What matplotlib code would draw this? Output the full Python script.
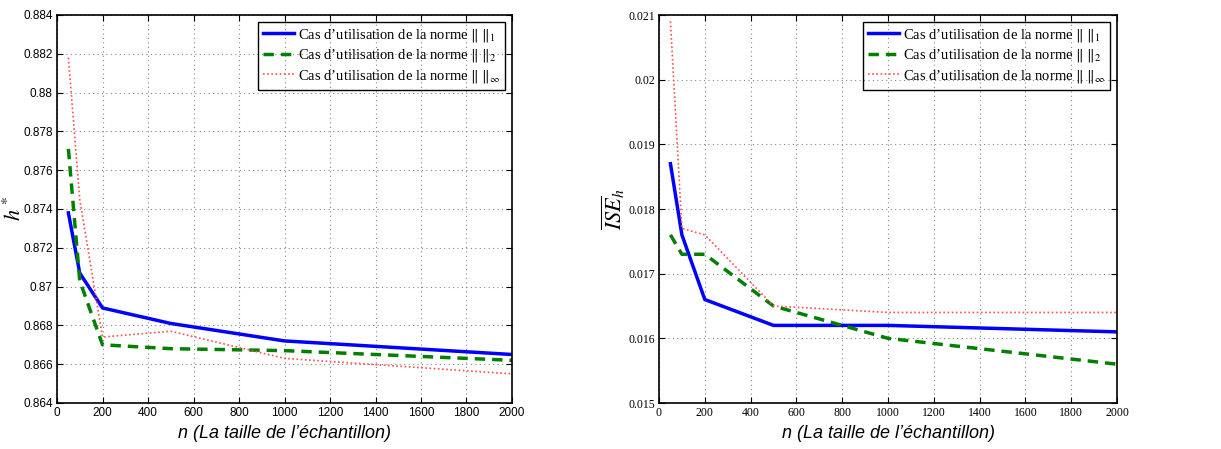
import numpy as np
import matplotlib
matplotlib.use("Agg")
import matplotlib.pyplot as plt

plt.rcParams['mathtext.fontset'] = 'stix'

n = [50, 100, 200, 500, 1000, 2000]

h_norm1 = [0.8738, 0.8707, 0.8689, 0.8681, 0.8672, 0.8665]
h_norm2 = [0.8771, 0.8703, 0.8670, 0.8668, 0.8667, 0.8662]
h_norminf = [0.8818, 0.8745, 0.8674, 0.8677, 0.8663, 0.8655]

ise_norm1 = [0.0187, 0.0176, 0.0166, 0.0162, 0.0162, 0.0161]
ise_norm2 = [0.0176, 0.0173, 0.0173, 0.0165, 0.0160, 0.0156]
ise_norminf = [0.0209, 0.0177, 0.0176, 0.0165, 0.0164, 0.0164]

labels = [r"Cas d’utilisation de la norme $\|\;\|_1$",
          r"Cas d’utilisation de la norme $\|\;\|_2$",
          r"Cas d’utilisation de la norme $\|\;\|_\infty$"]

xticks = np.arange(0, 2001, 200)


def draw(ax, y1, y2, y3, ylim, yticks, ylabel, tickfont, labelx):
    ax.plot(n, y1, color='#0000ff', lw=2.5, label=labels[0])
    ax.plot(n, y2, color='#007f00', lw=2.5, ls=(0, (3, 2)), label=labels[1])
    ax.plot(n, y3, color='#ff5050', lw=1.2, ls=(0, (1, 1.5)), label=labels[2])
    ax.set_xlim(0, 2000)
    ax.set_ylim(*ylim)
    ax.set_xticks(xticks)
    ax.set_yticks(yticks)
    ax.set_yticklabels([('%g' % v) for v in yticks], family=tickfont, fontsize=8.5)
    ax.set_xticklabels([str(v) for v in xticks], family=tickfont, fontsize=8.5)
    ax.tick_params(direction='in', top=True, right=True, length=4, pad=3)
    ax.grid(True, color='#888888', ls=(0, (1, 3)), lw=0.8)
    for s in ax.spines.values():
        s.set_linewidth(1.2)
    ax.set_xlabel("n (La taille de l’échantillon)", family='Liberation Sans',
                  style='italic', fontsize=13)
    ax.set_ylabel(ylabel, fontsize=16)
    ax.yaxis.set_label_coords(labelx, 0.5)
    leg = ax.legend(loc='upper right', prop={'family': 'Liberation Serif', 'size': 10.5},
                    fancybox=False, edgecolor='black', facecolor='none', framealpha=1.0,
                    handlelength=2.1, borderpad=0.35, labelspacing=0.25,
                    borderaxespad=0.45, handletextpad=0.3)
    leg.get_frame().set_linewidth(1.0)


fig = plt.figure(figsize=(12.21, 4.49), dpi=100)
ax1 = fig.add_axes([57 / 1221, 46 / 449, 455 / 1221, 388 / 449])
ax2 = fig.add_axes([659 / 1221, 46 / 449, 458 / 1221, 388 / 449])

draw(ax1, h_norm1, h_norm2, h_norminf, (0.864, 0.884),
     np.arange(0.864, 0.8841, 0.002).round(3), r"$h^*$", 'Liberation Sans', -0.07)
draw(ax2, ise_norm1, ise_norm2, ise_norminf, (0.015, 0.021),
     np.arange(0.015, 0.0211, 0.001).round(3), r"$\overline{ISE}_h$", 'Liberation Serif', -0.07)

fig.savefig("out.png", dpi=100)
